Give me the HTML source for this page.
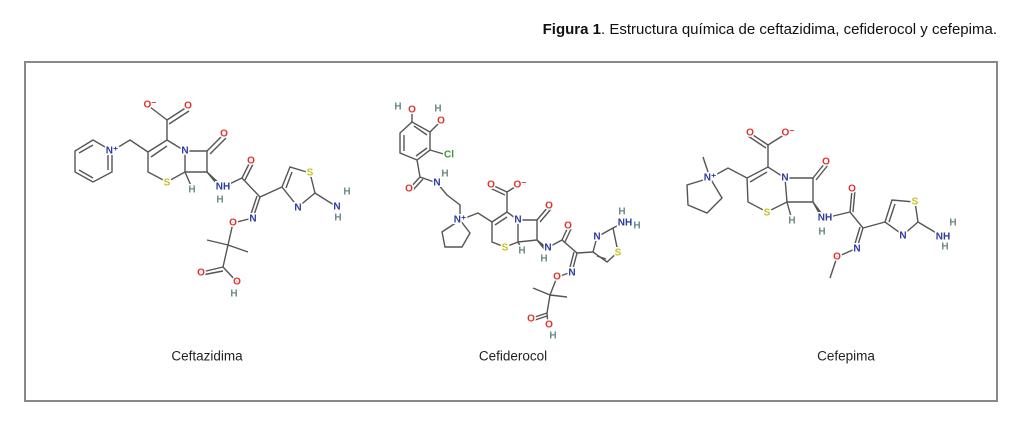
<!DOCTYPE html>
<html><head><meta charset="utf-8"><style>
body{margin:0;width:1024px;height:429px;background:#fff;overflow:hidden;font-family:"Liberation Sans",sans-serif}
.t{position:absolute;right:27px;top:21px;font-size:15px;color:#111;white-space:nowrap}
svg{position:absolute;left:0;top:0}
svg line,svg polyline,svg polygon{stroke:#555;stroke-width:1.4;fill:none}
svg text{font-size:10px;font-weight:bold;paint-order:stroke;stroke:#fff;stroke-width:3px;text-anchor:middle;dominant-baseline:central;font-family:"Liberation Sans",sans-serif}
.O{fill:#e0312d}.N{fill:#2a3aa0}.S{fill:#c8c020}.H{fill:#6a8a8a}.Cl{fill:#3a9a3a}
.lab{font-size:13.5px;font-weight:normal;fill:#222;stroke-width:0}
</style></head><body>
<div class="t"><b>Figura 1</b>. Estructura química de ceftazidima, cefiderocol y cefepima.</div>
<svg width="1024" height="429">
<rect x="25" y="62" width="972" height="339" style="fill:none;stroke:#888;stroke-width:2"/>
<!-- Ceftazidima -->
<polygon points="93,140 112,151 112,172 93,182 75,172 75,151"/>
<line x1="79" y1="153" x2="93" y2="145"/><line x1="79" y1="170" x2="93" y2="178"/><line x1="108" y1="153" x2="108" y2="170"/>
<polyline points="112,151 130,140 148,152 167,140 185,151 185,172 167,182 148,172 148,152"/>
<line x1="151" y1="157" x2="167" y2="146"/>
<line x1="167" y1="140" x2="167" y2="120"/><line x1="167" y1="120" x2="150" y2="107"/><line x1="167" y1="120" x2="187" y2="107"/><line x1="169" y1="124" x2="189" y2="111"/>
<polyline points="185,151 207,151 207,172 185,172"/><line x1="207" y1="151" x2="223" y2="135"/><line x1="210" y1="154" x2="226" y2="138"/>
<line x1="185" y1="172" x2="192" y2="188"/>
<polygon points="207,172 223,187 221,189" style="fill:#333"/>
<polyline points="223,187 242,178 260,197 282,187"/><line x1="242" y1="178" x2="250" y2="162"/><line x1="245" y1="180" x2="253" y2="164"/>
<line x1="260" y1="197" x2="253" y2="218"/><line x1="257" y1="196" x2="250" y2="217"/>
<polyline points="253,218 233,223 228,245 223,267 237,282"/><line x1="228" y1="245" x2="207" y2="240"/><line x1="228" y1="245" x2="248" y2="252"/>
<line x1="223" y1="267" x2="202" y2="272"/><line x1="223" y1="271" x2="202" y2="275"/>
<polygon points="282,187 290,167 310,173 315,193 298,207"/><line x1="286" y1="188" x2="292" y2="172"/><line x1="315" y1="193" x2="337" y2="207"/>
<text x="112" y="151" class="N">N⁺</text><text x="150" y="105" class="O">O⁻</text><text x="188" y="106" class="O">O</text>
<text x="185" y="151" class="N">N</text><text x="167" y="183" class="S">S</text><text x="224" y="134" class="O">O</text>
<text x="192" y="190" class="H">H</text><text x="223" y="187" class="N">NH</text><text x="220" y="200" class="H">H</text>
<text x="251" y="161" class="O">O</text><text x="253" y="219" class="N">N</text><text x="233" y="223" class="O">O</text>
<text x="201" y="273" class="O">O</text><text x="237" y="282" class="O">O</text><text x="234" y="294" class="H">H</text>
<text x="310" y="173" class="S">S</text><text x="298" y="208" class="N">N</text><text x="337" y="207" class="N">N</text>
<text x="347" y="192" class="H">H</text><text x="338" y="218" class="H">H</text>
<text x="207" y="356" class="lab">Ceftazidima</text>
<!-- Cefiderocol -->
<polygon points="412,122 430,132 430,150 417,160 400,153 400,133"/>
<line x1="404" y1="135" x2="404" y2="151"/><line x1="427" y1="135" x2="414" y2="126"/><line x1="427" y1="148" x2="416" y2="156"/>
<line x1="412" y1="122" x2="412" y2="112"/><line x1="430" y1="132" x2="440" y2="122"/><line x1="430" y1="150" x2="447" y2="155"/>
<polyline points="417,160 420,177 437,183 447,195 460,205 460,220"/><line x1="420" y1="177" x2="410" y2="188"/><line x1="423" y1="179" x2="413" y2="190"/>
<polygon points="460,220 470,233 462,247 445,247 442,232"/>
<polyline points="460,220 478,213 492,222 507,212 518,220 518,242 505,247 492,242 492,222"/>
<line x1="495" y1="225" x2="507" y2="217"/>
<line x1="507" y1="212" x2="507" y2="192"/><line x1="507" y1="192" x2="492" y2="185"/><line x1="505" y1="195" x2="490" y2="188"/><line x1="507" y1="192" x2="518" y2="185"/>
<polyline points="518,220 537,220 537,240 518,242"/><line x1="537" y1="220" x2="548" y2="207"/><line x1="540" y1="222" x2="551" y2="209"/>
<line x1="518" y1="242" x2="522" y2="250"/><polygon points="537,240 547,248 545,250" style="fill:#333"/>
<polyline points="547,248 562,240 577,253 593,252"/><line x1="562" y1="240" x2="568" y2="227"/><line x1="565" y1="242" x2="571" y2="229"/>
<line x1="577" y1="253" x2="572" y2="272"/><line x1="574" y1="252" x2="569" y2="271"/>
<polyline points="572,272 557,277 550,295 547,313 548,325"/><line x1="550" y1="295" x2="533" y2="288"/><line x1="550" y1="295" x2="567" y2="297"/>
<line x1="547" y1="313" x2="532" y2="318"/><line x1="547" y1="316" x2="532" y2="321"/>
<polygon points="593,252 597,237 613,228 618,252 607,262"/><line x1="597" y1="256" x2="606" y2="259"/><line x1="613" y1="228" x2="623" y2="223"/>
<text x="412" y="110" class="O">O</text><text x="398" y="107" class="H">H</text><text x="441" y="121" class="O">O</text><text x="438" y="109" class="H">H</text>
<text x="449" y="155" class="Cl">Cl</text><text x="409" y="189" class="O">O</text><text x="437" y="183" class="N">N</text><text x="445" y="174" class="H">H</text>
<text x="460" y="220" class="N">N⁺</text><text x="491" y="185" class="O">O</text><text x="520" y="185" class="O">O⁻</text>
<text x="518" y="220" class="N">N</text><text x="505" y="248" class="S">S</text><text x="549" y="206" class="O">O</text>
<text x="522" y="251" class="H">H</text><text x="548" y="248" class="N">N</text><text x="544" y="259" class="H">H</text>
<text x="568" y="226" class="O">O</text><text x="572" y="273" class="N">N</text><text x="557" y="277" class="O">O</text>
<text x="531" y="319" class="O">O</text><text x="549" y="325" class="O">O</text><text x="553" y="336" class="H">H</text>
<text x="597" y="237" class="N">N</text><text x="618" y="253" class="S">S</text><text x="625" y="223" class="N">NH</text>
<text x="622" y="212" class="H">H</text><text x="637" y="226" class="H">H</text>
<text x="513" y="356" class="lab">Cefiderocol</text>
<!-- Cefepima -->
<line x1="710" y1="178" x2="703" y2="157"/>
<polygon points="710,178 722,198 707,213 688,205 687,185"/>
<polyline points="710,178 728,168 747,178 768,167 785,178 787,202 767,212 748,202 747,178"/>
<line x1="750" y1="182" x2="767" y2="172"/>
<line x1="768" y1="167" x2="768" y2="145"/><line x1="768" y1="145" x2="750" y2="133"/><line x1="766" y1="148" x2="748" y2="136"/><line x1="768" y1="145" x2="787" y2="133"/>
<polyline points="785,178 813,178 813,202 787,202"/><line x1="813" y1="178" x2="825" y2="163"/><line x1="816" y1="180" x2="828" y2="165"/>
<line x1="787" y1="202" x2="792" y2="220"/><polygon points="813,202 825,218 823,220" style="fill:#333"/>
<polyline points="825,218 850,212 863,228 885,222"/><line x1="850" y1="212" x2="852" y2="190"/><line x1="853" y1="212" x2="855" y2="190"/>
<line x1="863" y1="228" x2="857" y2="248"/><line x1="860" y1="227" x2="854" y2="247"/>
<polyline points="857,248 837,257 830,278"/>
<polygon points="885,222 892,200 915,202 918,222 903,235"/><line x1="889" y1="222" x2="895" y2="204"/><line x1="918" y1="222" x2="943" y2="237"/>
<text x="710" y="178" class="N">N⁺</text><text x="750" y="133" class="O">O</text><text x="788" y="133" class="O">O⁻</text>
<text x="785" y="178" class="N">N</text><text x="767" y="213" class="S">S</text><text x="826" y="162" class="O">O</text>
<text x="792" y="221" class="H">H</text><text x="825" y="218" class="N">NH</text><text x="822" y="232" class="H">H</text>
<text x="852" y="189" class="O">O</text><text x="857" y="249" class="N">N</text><text x="837" y="257" class="O">O</text>
<text x="915" y="202" class="S">S</text><text x="903" y="236" class="N">N</text><text x="943" y="237" class="N">NH</text>
<text x="953" y="223" class="H">H</text><text x="945" y="247" class="H">H</text>
<text x="846" y="356" class="lab">Cefepima</text>
</svg>
</body></html>
